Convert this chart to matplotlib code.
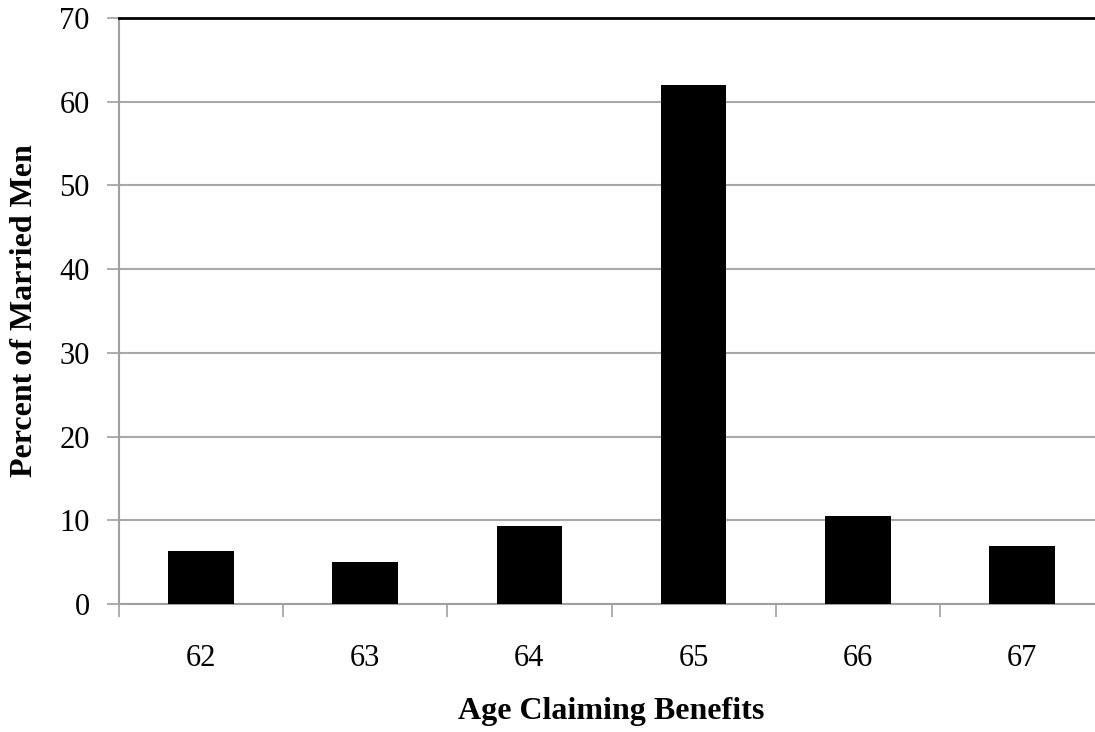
import matplotlib.pyplot as plt
import numpy as np

# data
ages = ["62", "63", "64", "65", "66", "67"]
pct_married_men = [6.3, 5.0, 9.3, 62.0, 10.5, 6.9]

plt.rcParams['font.family'] = 'Liberation Serif'

fig = plt.figure(figsize=(10.95, 7.32), dpi=100)
W, H = 1095, 732
# plot area in pixels: left 119, right ~1104 (cut off by the figure edge), top 18, bottom 604
ax = fig.add_axes([119 / W, 1 - 604 / H, (1104 - 119) / W, (604 - 18) / H])

x = np.arange(len(ages))
ax.bar(x, pct_married_men, width=0.4, color='black', zorder=3)

ax.set_xlim(-0.5, len(ages) - 0.5)
ax.set_ylim(0, 70)
ax.set_yticks(range(0, 71, 10))
ax.set_xticks(x)
ax.set_xticklabels(ages)
# tick marks sit between categories
ax.set_xticks(np.arange(-0.5, len(ages), 1), minor=True)
ax.tick_params(axis='x', which='major', length=0, pad=29, labelsize=22)
ax.tick_params(axis='x', which='minor', length=9, width=1.2, color='#a0a0a0', direction='out')
ax.tick_params(axis='y', length=9, width=1.2, color='#a0a0a0', direction='out', pad=12, labelsize=22)

ax.grid(axis='y', color='#a8a8a8', linewidth=1.5, zorder=0)
for side in ['left', 'bottom']:
    ax.spines[side].set_color('#a0a0a0')
    ax.spines[side].set_linewidth(1.5)
ax.spines['right'].set_visible(False)
ax.spines['top'].set_color('black')
ax.spines['top'].set_linewidth(2)

ax.set_xlabel("Age Claiming Benefits", fontsize=23, fontweight='bold', labelpad=17)
ax.set_ylabel("Percent of Married Men", fontsize=23, fontweight='bold', labelpad=15)

plt.savefig("out.png", dpi=100)
